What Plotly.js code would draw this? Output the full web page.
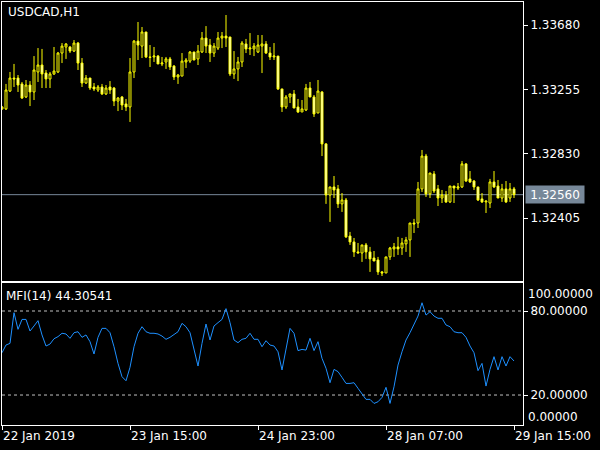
<!DOCTYPE html>
<html><head><meta charset="utf-8">
<script src="https://cdn.plot.ly/plotly-3.0.1.min.js"></script>
<style>html,body{margin:0;padding:0;background:#000;}#chart{width:600px;height:450px;}</style>
</head><body><div id="chart"></div>
<script>
const symbol = 'USDCAD,H1';
const tickBars = [0, 32, 64, 96, 128];
const tickText = ['22 Jan 2019', '23 Jan 15:00', '24 Jan 23:00', '28 Jan 07:00', '29 Jan 15:00'];
const priceTicks = [1.33680, 1.33255, 1.32830, 1.32405];
const mfiTicks = [80, 20];
const mfiEnds = [100, 0];

const open = [1.33126,
1.33126,1.33244,1.33330,1.33330,1.33291,1.33205,1.33284,1.33238,1.33370,1.33416,
1.33363,1.33324,1.33357,1.33370,1.33495,1.33535,1.33535,1.33508,1.33561,1.33429,
1.33297,1.33330,1.33271,1.33251,1.33271,1.33225,1.33271,1.33264,1.33178,1.33205,
1.33159,1.33139,1.33370,1.33574,1.33541,1.33634,1.33469,1.33469,1.33475,1.33423,
1.33436,1.33456,1.33409,1.33337,1.33343,1.33436,1.33442,1.33502,1.33456,1.33502,
1.33594,1.33548,1.33495,1.33528,1.33594,1.33607,1.33601,1.33357,1.33390,1.33436,
1.33555,1.33522,1.33522,1.33502,1.33541,1.33555,1.33495,1.33469,1.33475,1.33258,
1.33139,1.33205,1.33225,1.33139,1.33106,1.33119,1.33264,1.33205,1.33099,1.33238,
1.32895,1.32558,1.32611,1.32598,1.32499,1.32525,1.32287,1.32248,1.32182,1.32175,
1.32228,1.32182,1.32142,1.32129,1.32050,1.32043,1.32149,1.32202,1.32215,1.32208,
1.32235,1.32261,1.32373,1.32373,1.32598,1.32815,1.32565,1.32697,1.32598,1.32538,
1.32558,1.32512,1.32617,1.32604,1.32611,1.32763,1.32664,1.32650,1.32611,1.32532,
1.32512,1.32505,1.32644,1.32617,1.32538,1.32598,1.32538,1.32598];

const high = [1.33145,
1.33291,1.33370,1.33423,1.33350,1.33304,1.33317,1.33310,1.33475,1.33528,1.33522,
1.33383,1.33370,1.33535,1.33502,1.33561,1.33561,1.33541,1.33581,1.33568,1.33462,
1.33350,1.33330,1.33297,1.33284,1.33291,1.33284,1.33310,1.33271,1.33205,1.33211,
1.33192,1.33462,1.33581,1.33700,1.33667,1.33634,1.33548,1.33535,1.33482,1.33469,
1.33469,1.33469,1.33416,1.33357,1.33495,1.33462,1.33508,1.33502,1.33548,1.33634,
1.33673,1.33588,1.33561,1.33634,1.33634,1.33746,1.33601,1.33508,1.33469,1.33574,
1.33588,1.33627,1.33561,1.33614,1.33614,1.33574,1.33535,1.33561,1.33475,1.33258,
1.33218,1.33225,1.33251,1.33192,1.33185,1.33291,1.33304,1.33218,1.33317,1.33244,
1.32901,1.32611,1.32683,1.32624,1.32571,1.32538,1.32314,1.32274,1.32241,1.32228,
1.32241,1.32215,1.32188,1.32149,1.32056,1.32149,1.32215,1.32241,1.32281,1.32274,
1.32281,1.32373,1.32400,1.32644,1.32855,1.32829,1.32703,1.32716,1.32624,1.32591,
1.32584,1.32617,1.32617,1.32637,1.32782,1.32769,1.32716,1.32657,1.32611,1.32571,
1.32518,1.32664,1.32716,1.32657,1.32631,1.32650,1.32637,1.32611];

const low = [1.33119,
1.33119,1.33238,1.33271,1.33238,1.33192,1.33198,1.33145,1.33185,1.33304,1.33264,
1.33264,1.33264,1.33350,1.33363,1.33429,1.33456,1.33495,1.33502,1.33383,1.33271,
1.33291,1.33251,1.33244,1.33238,1.33218,1.33218,1.33225,1.33145,1.33112,1.33119,
1.33112,1.33040,1.33330,1.33449,1.33462,1.33462,1.33403,1.33436,1.33423,1.33409,
1.33390,1.33383,1.33317,1.33291,1.33343,1.33396,1.33429,1.33449,1.33416,1.33495,
1.33495,1.33436,1.33469,1.33515,1.33528,1.33535,1.33343,1.33324,1.33310,1.33403,
1.33495,1.33482,1.33475,1.33495,1.33363,1.33489,1.33449,1.33449,1.33251,1.33106,
1.33126,1.33165,1.33132,1.33099,1.33106,1.33112,1.33205,1.33073,1.33099,1.32815,
1.32499,1.32380,1.32538,1.32472,1.32446,1.32274,1.32228,1.32149,1.32175,1.32116,
1.32136,1.32050,1.32122,1.32030,1.32023,1.32043,1.32129,1.32149,1.32162,1.32162,
1.32182,1.32149,1.32307,1.32340,1.32578,1.32545,1.32538,1.32571,1.32485,1.32505,
1.32505,1.32505,1.32505,1.32591,1.32604,1.32644,1.32637,1.32591,1.32518,1.32505,
1.32439,1.32472,1.32604,1.32538,1.32512,1.32505,1.32512,1.32538];

const close = [1.33139,
1.33251,1.33330,1.33324,1.33284,1.33198,1.33284,1.33238,1.33383,1.33416,1.33357,
1.33324,1.33357,1.33376,1.33495,1.33541,1.33555,1.33508,1.33561,1.33429,1.33297,
1.33330,1.33264,1.33258,1.33271,1.33225,1.33264,1.33251,1.33178,1.33198,1.33152,
1.33139,1.33370,1.33574,1.33548,1.33634,1.33469,1.33466,1.33475,1.33423,1.33429,
1.33456,1.33403,1.33337,1.33350,1.33442,1.33449,1.33502,1.33449,1.33508,1.33594,
1.33541,1.33495,1.33541,1.33594,1.33607,1.33594,1.33357,1.33390,1.33436,1.33561,
1.33522,1.33528,1.33541,1.33548,1.33555,1.33495,1.33469,1.33475,1.33258,1.33139,
1.33205,1.33225,1.33132,1.33106,1.33126,1.33264,1.33205,1.33093,1.33244,1.32895,
1.32558,1.32611,1.32591,1.32499,1.32525,1.32281,1.32248,1.32182,1.32175,1.32228,
1.32182,1.32136,1.32122,1.32050,1.32043,1.32149,1.32208,1.32215,1.32202,1.32241,
1.32261,1.32373,1.32367,1.32598,1.32815,1.32565,1.32703,1.32584,1.32538,1.32558,
1.32512,1.32617,1.32604,1.32611,1.32763,1.32650,1.32644,1.32611,1.32525,1.32512,
1.32518,1.32644,1.32611,1.32538,1.32598,1.32512,1.32598,1.32560];

const mfi = [50.2,
55.7,56.9,78.8,66.9,74,74,65.7,69.3,73.1,62.9,
55,56.4,60.2,61.7,64.1,63.6,60.5,64.5,65.2,61.2,
62.9,58.1,49.3,61.2,67.6,67.6,64.5,54.5,42.6,33.1,
30.2,39.8,54.5,64.1,68.8,65.2,64.1,64.1,63.6,62.1,
59.8,61.2,62.9,65.2,71.2,68.8,64.5,53.3,40.7,56.9,
70.7,59.3,69.3,71.7,74,81.7,71.7,59.3,57.4,59.8,
60.5,64.1,59.8,59.8,54.5,58.8,55.7,55,50.9,37.9,
52.1,67.6,64.1,51.7,52.6,52.1,60.5,51.7,58.1,46.2,
39.1,28.8,38.3,36.7,32.6,28.3,28.3,28.8,24.8,20.7,
16.9,16.9,14.0,15.2,18.3,25.5,14.0,25.9,41.4,50.9,
59.3,64.5,70,76.4,85.9,77.1,79.5,76.4,74.8,74.8,
70,68.8,65.2,64.5,64.5,61.2,55,50.2,37.4,42.6,
26.4,38.3,47.4,37.9,47.4,40.7,47.4,44.30541];

const idx = open.map((_, i) => i);
const lastClose = close[close.length - 1];
const lastMfi = mfi[mfi.length - 1];
const FONT = 'DejaVu Sans';
const WHITE = '#ffffff';
const SLATE = '#778899';

const traces = [
  {
    type: 'candlestick', x: idx, open: open, high: high, low: low, close: close,
    xaxis: 'x', yaxis: 'y', whiskerwidth: 0, hoverinfo: 'skip',
    increasing: {line: {color: '#ffff00', width: 1}, fillcolor: '#000000'},
    decreasing: {line: {color: '#ffff00', width: 1}, fillcolor: '#ffffff'},
    showlegend: false
  },
  {
    type: 'scatter', mode: 'lines', x: idx, y: mfi, xaxis: 'x2', yaxis: 'y2',
    line: {color: '#1e90ff', width: 1}, hoverinfo: 'skip', showlegend: false
  }
];

const axisBase = {showline: true, mirror: true, linecolor: WHITE, linewidth: 1,
  showgrid: false, zeroline: false, fixedrange: true};

const layout = {
  width: 600, height: 450,
  paper_bgcolor: '#000000', plot_bgcolor: '#000000',
  margin: {l: 2, r: 77, t: 0, b: 0},
  font: {family: FONT, size: 12, color: WHITE},
  showlegend: false, hovermode: false,
  xaxis: Object.assign({}, axisBase, {anchor: 'y', range: [0, 130.25], showticklabels: false,
    ticks: '', rangeslider: {visible: false}}),
  xaxis2: Object.assign({}, axisBase, {anchor: 'y2', matches: 'x', range: [0, 130.25],
    tickvals: tickBars, ticktext: tickText, ticks: 'outside', ticklen: 4, tickcolor: WHITE,
    ticklabelposition: 'outside right', tickfont: {family: FONT, size: 12, color: WHITE}}),
  yaxis: Object.assign({}, axisBase, {domain: [1 - 281/450, 1 - 2/450], side: 'right',
    range: [1.31990, 1.33832], tickvals: priceTicks, ticktext: priceTicks.map(v => v.toFixed(5)),
    ticks: 'outside', ticklen: 4, tickcolor: WHITE, tickfont: {family: FONT, size: 12, color: WHITE}}),
  yaxis2: Object.assign({}, axisBase, {domain: [1 - 425/450, 1 - 283/450], side: 'right', anchor: 'x2',
    range: [-1.4, 100], tickvals: mfiTicks, ticktext: mfiTicks.map(v => v.toFixed(5)),
    ticks: 'outside', ticklen: 4, tickcolor: WHITE, tickfont: {family: FONT, size: 12, color: WHITE}}),
  shapes: [
    {type: 'line', xref: 'x domain', yref: 'y', x0: 0, x1: 1, y0: lastClose, y1: lastClose,
     line: {color: SLATE, width: 1}, layer: 'below'}
  ].concat(mfiTicks.map(v => ({type: 'line', xref: 'x2 domain', yref: 'y2', x0: 0, x1: 1, y0: v, y1: v,
     line: {color: '#c0c0c0', width: 1, dash: '3px,3px'}, layer: 'below'}))),
  annotations: [
    {xref: 'paper', yref: 'paper', x: 0.008, y: 1 - 12/450, xanchor: 'left', yanchor: 'middle',
     text: symbol, showarrow: false, font: {family: FONT, size: 12, color: WHITE}},
    {xref: 'paper', yref: 'paper', x: 0.004, y: 1 - 296/450, xanchor: 'left', yanchor: 'middle',
     text: 'MFI(14) ' + lastMfi.toFixed(5), showarrow: false, font: {family: FONT, size: 12, color: WHITE}},
    {xref: 'paper', yref: 'y', x: 1, y: lastClose, xanchor: 'left', yanchor: 'middle', xshift: 2,
     text: lastClose.toFixed(5), showarrow: false, bgcolor: SLATE, width: 56, height: 15, borderpad: 1,
     font: {family: FONT, size: 12, color: WHITE}},
    {xref: 'paper', yref: 'y2', x: 1, y: mfiEnds[0], xanchor: 'left', yanchor: 'top', xshift: 3, yshift: -2,
     text: mfiEnds[0].toFixed(5), showarrow: false, font: {family: FONT, size: 12, color: WHITE}},
    {xref: 'paper', yref: 'y2', x: 1, y: mfiEnds[1], xanchor: 'left', yanchor: 'bottom', xshift: 3, yshift: -3,
     text: mfiEnds[1].toFixed(5), showarrow: false, font: {family: FONT, size: 12, color: WHITE}}
  ]
};

Plotly.newPlot('chart', traces, layout, {displayModeBar: false, staticPlot: true});
</script>
</body></html>
